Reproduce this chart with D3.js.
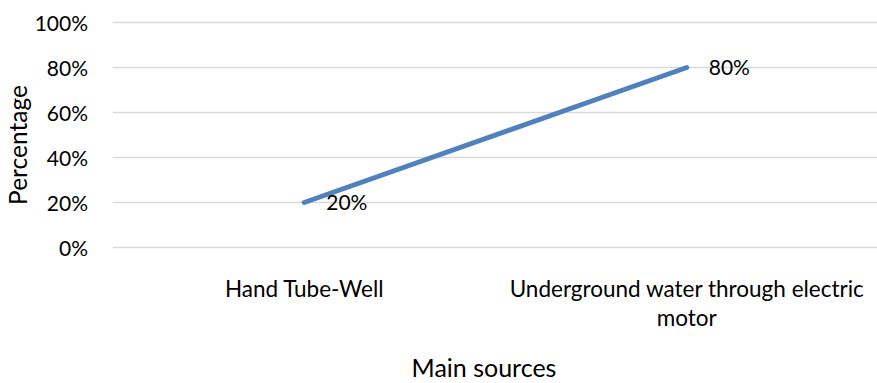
<!DOCTYPE html>
<html>
<head>
<meta charset="utf-8">
<script src="https://cdn.jsdelivr.net/npm/d3@7"></script>
<style>
  html, body { margin: 0; padding: 0; background: #fff; }
  svg { display: block; font-family: Lato, "Open Sans", sans-serif; }
</style>
</head>
<body>
<svg id="chart" width="877" height="383"></svg>
<script>
// Main sources of water and their share
const categories = ["Hand Tube-Well", "Underground water through electric motor"];
const categoryLines = [["Hand Tube-Well"], ["Underground water through electric", "motor"]];
const values = [0.20, 0.80];
const yTicks = [0, 0.2, 0.4, 0.6, 0.8, 1.0];

const svg = d3.select("#chart");
const plot = { left: 113, right: 878, top: 22.5, bottom: 247.5 };

const x = d3.scalePoint()
  .domain(categories)
  .range([plot.left, plot.right])
  .padding(0.5);

const y = d3.scaleLinear()
  .domain([0, 1])
  .range([plot.bottom, plot.top]);

const fmt = d3.format(".0%");

// Horizontal gridlines
svg.append("g")
  .selectAll("line")
  .data(yTicks)
  .join("line")
  .attr("x1", plot.left)
  .attr("x2", plot.right)
  .attr("y1", d => y(d))
  .attr("y2", d => y(d))
  .attr("stroke", "#d9d9d9")
  .attr("stroke-width", 1.3);

// Y axis tick labels
const yAxis = svg.append("g")
  .attr("transform", `translate(${plot.left - 25},0)`)
  .call(d3.axisLeft(y).tickValues(yTicks).tickFormat(fmt).tickSize(0).tickPadding(0));
yAxis.select(".domain").remove();
yAxis.selectAll("text")
  .attr("font-family", "Lato, sans-serif")
  .attr("font-size", 21)
  .attr("fill", "#000")
  .attr("dy", "0.36em");

// Category labels
const xLab = svg.append("g");
categories.forEach((c, i) => {
  const t = xLab.append("text")
    .attr("x", x(c))
    .attr("y", 297)
    .attr("text-anchor", "middle")
    .attr("font-size", 22.5)
    .attr("fill", "#000");
  categoryLines[i].forEach((line, j) => {
    t.append("tspan").attr("x", x(c)).attr("dy", j === 0 ? 0 : 29).text(line);
  });
});

// Series line
const line = d3.line()
  .x((d, i) => x(categories[i]))
  .y(d => y(d));

svg.append("path")
  .datum(values)
  .attr("d", line)
  .attr("fill", "none")
  .attr("stroke", "#4f81bd")
  .attr("stroke-width", 5)
  .attr("stroke-linecap", "round");

// Data labels to the right of each point
svg.append("g")
  .selectAll("text")
  .data(values)
  .join("text")
  .attr("x", (d, i) => x(categories[i]) + 22)
  .attr("y", d => y(d))
  .attr("dy", "0.36em")
  .attr("font-size", 21)
  .attr("fill", "#000")
  .text(fmt);

// Axis titles
svg.append("text")
  .attr("x", 484)
  .attr("y", 377)
  .attr("text-anchor", "middle")
  .attr("font-size", 25)
  .attr("fill", "#000")
  .text("Main sources");

svg.append("text")
  .attr("transform", "translate(27,145) rotate(-90)")
  .attr("text-anchor", "middle")
  .attr("font-size", 24.5)
  .attr("fill", "#000")
  .text("Percentage");
</script>
</body>
</html>
